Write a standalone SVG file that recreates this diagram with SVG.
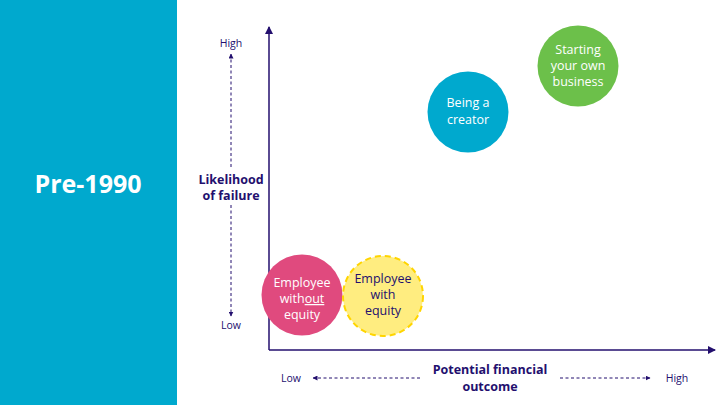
<svg xmlns="http://www.w3.org/2000/svg" width="720" height="405" viewBox="0 0 720 405">
<style>
text{font-family:"Open Sans","Noto Sans",sans-serif}
.ax{stroke:#230F6E;stroke-width:1.5;fill:none}
.dash{stroke:#230F6E;stroke-width:1;stroke-dasharray:3 2.5;fill:none}
.lbl{fill:#230F6E;font-size:10.5px;text-anchor:middle}
.title{fill:#230F6E;font-size:12.5px;font-weight:bold;text-anchor:middle}
.bt{font-size:12.5px;text-anchor:middle}
</style>
<defs>
<marker id="ah" markerWidth="8" markerHeight="8" refX="7" refY="4" orient="auto" markerUnits="userSpaceOnUse"><path d="M0,0 L8,4 L0,8 z" fill="#230F6E"/></marker>
<marker id="sh" markerWidth="5" markerHeight="5" refX="4.5" refY="2.5" orient="auto" markerUnits="userSpaceOnUse"><path d="M0,0 L5,2.5 L0,5 z" fill="#230F6E"/></marker>
</defs>
<rect width="720" height="405" fill="#fff"/>
<rect id="panel" x="0" y="0" width="177" height="405" fill="#00A9CE"/>
<text x="88" y="193" fill="#fff" font-size="25" font-weight="bold" text-anchor="middle">Pre-1990</text>
<g id="connectors">
<path class="ax" d="M269,350 V27" marker-end="url(#ah)"/>
<path class="ax" d="M269,350 H715" marker-end="url(#ah)"/>
<path class="dash" d="M231,167 V54" marker-end="url(#sh)"/>
<path class="dash" d="M231,205 V316" marker-end="url(#sh)"/>
<path class="dash" d="M420,378 H313" marker-end="url(#sh)"/>
<path class="dash" d="M560,378 H650" marker-end="url(#sh)"/>
</g>
<g id="y-axis-labels">
<text class="lbl" x="231" y="47">High</text>
<text class="lbl" x="231" y="329">Low</text>
<text class="title" x="231" y="184">Likelihood</text>
<text class="title" x="231" y="200">of failure</text>
</g>
<g id="x-axis-labels">
<text class="lbl" x="291" y="382">Low</text>
<text class="lbl" x="677" y="382">High</text>
<text class="title" x="490" y="374">Potential financial</text>
<text class="title" x="490" y="391">outcome</text>
</g>
<g id="employee-without-equity">
<circle cx="302" cy="295" r="40.5" fill="#E04A7E"/>
<text class="bt" fill="#fff" x="302" y="287">Employee</text>
<text class="bt" fill="#fff" x="302" y="303">with<tspan text-decoration="underline">out</tspan></text>
<text class="bt" fill="#fff" x="302" y="319">equity</text>
</g>
<g id="employee-with-equity">
<circle cx="383" cy="296" r="40" fill="#FFED80" stroke="#FFD500" stroke-width="2" stroke-dasharray="6 4"/>
<text class="bt" fill="#230F6E" x="383" y="283">Employee</text>
<text class="bt" fill="#230F6E" x="383" y="299">with</text>
<text class="bt" fill="#230F6E" x="383" y="315">equity</text>
</g>
<g id="being-a-creator">
<circle cx="468" cy="112" r="40.5" fill="#00A9CE"/>
<text class="bt" fill="#fff" x="468" y="107">Being a</text>
<text class="bt" fill="#fff" x="468" y="124">creator</text>
</g>
<g id="starting-business">
<circle cx="578" cy="66" r="40.5" fill="#6CC04A"/>
<text class="bt" fill="#fff" x="578" y="54">Starting</text>
<text class="bt" fill="#fff" x="578" y="70">your own</text>
<text class="bt" fill="#fff" x="578" y="86">business</text>
</g>
</svg>
